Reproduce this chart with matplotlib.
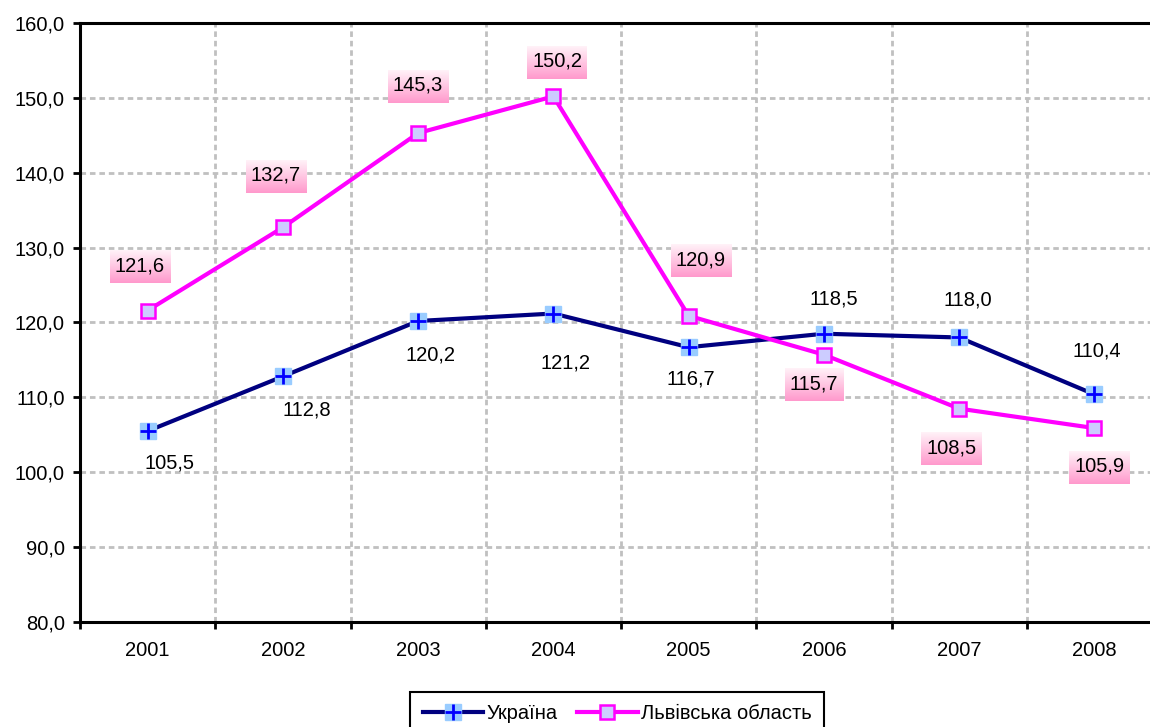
import numpy as np
import matplotlib.pyplot as plt
from matplotlib.ticker import FuncFormatter, MultipleLocator
from matplotlib.colors import to_rgb
from matplotlib.legend_handler import HandlerTuple

plt.rcParams['font.family'] = ['Liberation Sans', 'DejaVu Sans']

years = ['2001', '2002', '2003', '2004', '2005', '2006', '2007', '2008']
ukraine = [105.5, 112.8, 120.2, 121.2, 116.7, 118.5, 118.0, 110.4]
lviv = [121.6, 132.7, 145.3, 150.2, 120.9, 115.7, 108.5, 105.9]

# label offsets in pixels (dx, dy), positive dy = up
ukr_off = [(22, -32), (24, -34), (12, -34), (12, -49), (2, -32), (10, 35), (9, 37), (2, 43)]
lviv_off = [(-8, 45), (-7, 52), (0, 48), (4, 35), (12, 56), (-10, -29), (-8, -39), (5, -38)]

FS = 14.5

fig = plt.figure(figsize=(11.5, 7.27), dpi=100)
ax = fig.add_axes([80 / 1150, 1 - 622 / 727, 1082 / 1150, 599 / 727])

x = np.arange(len(years))
l1, = ax.plot(x, ukraine, color='#000080', lw=3, marker='s', ms=12,
              mfc='#99ccff', mec='#99ccff', zorder=5)
l2, = ax.plot(x, ukraine, ls='none', marker='+', ms=12, mew=2, color='#0000ff', zorder=6)
l3, = ax.plot(x, lviv, color='#ff00ff', lw=3, marker='s', ms=10, mew=1.8,
              mfc='#ccccff', mec='#ff00ff', zorder=5)

ax.set_xlim(-0.5, 7.5)
ax.set_ylim(80, 160)
ax.yaxis.set_major_locator(MultipleLocator(10))
ax.yaxis.set_major_formatter(FuncFormatter(lambda v, p: f'{v:.1f}'.replace('.', ',')))
ax.set_xticks(x)
ax.set_xticklabels(years)
ax.set_xticks(np.arange(-0.5, 8, 1), minor=True)
ax.tick_params(axis='x', which='major', length=0, pad=14, labelsize=FS)
ax.tick_params(axis='x', which='minor', length=5, width=2, direction='out')
ax.tick_params(axis='y', length=5, width=2, labelsize=FS, pad=6)
ax.grid(axis='y', which='major', color='#c0c0c0', ls=(0, (2, 1.4)), lw=2)
ax.grid(axis='x', which='minor', color='#c0c0c0', ls=(0, (2, 1.4)), lw=2)
for s in ax.spines.values():
    s.set_linewidth(2.2)
    s.set_zorder(7)

texts = []
for i in range(len(years)):
    dx, dy = ukr_off[i]
    ax.annotate(f'{ukraine[i]:.1f}'.replace('.', ','), (x[i], ukraine[i]),
                xytext=(dx, dy), textcoords='offset pixels',
                ha='center', va='center', fontsize=FS, zorder=9)
    dx, dy = lviv_off[i]
    t = ax.annotate(f'{lviv[i]:.1f}'.replace('.', ','), (x[i], lviv[i]),
                    xytext=(dx, dy), textcoords='offset pixels',
                    ha='center', va='center', fontsize=FS, zorder=9)
    texts.append(t)

leg = fig.legend([(l1, l2), l3], ['Україна', 'Львівська область'],
                 handler_map={tuple: HandlerTuple(ndivide=1, pad=0)},
                 loc='upper center', bbox_to_anchor=(617 / 1150, 1 - 692 / 727),
                 ncol=2, fontsize=FS, frameon=True, fancybox=False, edgecolor='black',
                 handlelength=3.0, columnspacing=1.0, handletextpad=0.15,
                 borderpad=0.6, borderaxespad=0, framealpha=1)
leg.get_frame().set_linewidth(1.5)

# pink gradient boxes behind Lviv labels
fig.canvas.draw()
top = np.array(to_rgb('#fff2f8'))
bot = np.array(to_rgb('#ff99cc'))
grad = np.linspace(0, 1, 64)[:, None, None] * (bot - top) + top
inv = ax.transAxes.inverted()
for t in texts:
    bb = t.get_window_extent()
    x0, y0 = inv.transform((bb.x0 - 5, bb.y0 - 8))
    x1, y1 = inv.transform((bb.x1 + 5, bb.y1 + 6))
    ax.imshow(grad, extent=(x0, x1, y0, y1), transform=ax.transAxes,
              aspect='auto', origin='upper', zorder=8, interpolation='bilinear')
ax.set_xlim(-0.5, 7.5)
ax.set_ylim(80, 160)

fig.savefig('out.png', dpi=100)
